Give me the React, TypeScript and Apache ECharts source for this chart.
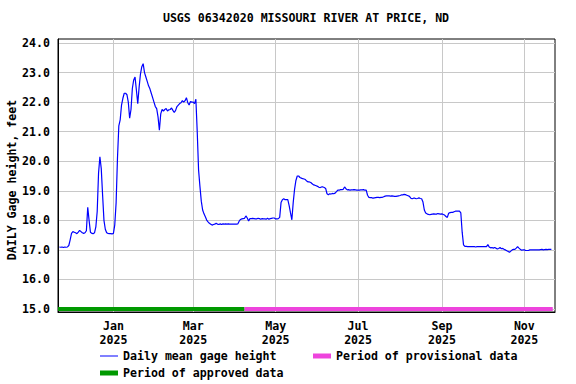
import React, { useEffect, useRef } from "react";
import * as echarts from "echarts";

// ---- Data (daily mean gage height, feet), one array per month ----
const nov2024 = [17.1, 17.09, 17.1, 17.08, 17.1, 17.09, 17.1, 17.15, 17.34]; // from Nov 22
const dec2024 = [17.56, 17.62, 17.6, 17.58, 17.55, 17.6, 17.66, 17.62, 17.58, 17.56, 17.58, 17.65, 18.44, 18.0, 17.6, 17.56, 17.55, 17.58, 17.78, 18.3, 19.6, 20.15, 19.75, 18.85, 18.0, 17.7, 17.58, 17.56, 17.55, 17.55, 17.54];
const jan2025 = [17.56, 17.85, 18.6, 20.1, 21.2, 21.4, 21.9, 22.13, 22.3, 22.3, 22.25, 22.0, 21.46, 21.75, 22.46, 22.75, 22.85, 22.4, 21.95, 22.5, 22.95, 23.2, 23.3, 23.0, 22.85, 22.7, 22.55, 22.45, 22.3, 22.15, 22.0];
const feb2025 = [21.85, 21.78, 21.5, 21.05, 21.6, 21.75, 21.7, 21.75, 21.78, 21.7, 21.74, 21.75, 21.8, 21.72, 21.65, 21.72, 21.85, 21.9, 21.95, 21.98, 22.05, 22.0, 22.05, 22.15, 21.98, 21.9, 22.02, 22.0];
const mar2025 = [22.0, 21.95, 22.1, 21.0, 19.7, 19.15, 18.65, 18.35, 18.22, 18.12, 18.01, 17.95, 17.9, 17.87, 17.84, 17.86, 17.87, 17.9, 17.87, 17.86, 17.88, 17.86, 17.88, 17.87, 17.88, 17.87, 17.88, 17.87, 17.87, 17.87, 17.87];
const apr2025 = [17.87, 17.87, 17.88, 17.97, 18.03, 18.05, 18.06, 18.07, 18.15, 18.08, 17.98, 18.06, 18.06, 18.07, 18.06, 18.05, 18.05, 18.07, 18.06, 18.04, 18.06, 18.05, 18.05, 18.04, 18.07, 18.04, 18.06, 18.07, 18.08, 18.08];
const may2025 = [18.05, 18.05, 18.06, 18.1, 18.6, 18.7, 18.73, 18.7, 18.7, 18.7, 18.5, 18.25, 18.02, 18.6, 19.05, 19.35, 19.5, 19.5, 19.45, 19.43, 19.41, 19.4, 19.38, 19.33, 19.3, 19.3, 19.28, 19.24, 19.2, 19.19, 19.17];
const jun2025 = [19.15, 19.12, 19.11, 19.13, 19.13, 19.11, 19.08, 18.9, 18.87, 18.9, 18.89, 18.91, 18.9, 18.92, 18.97, 19.02, 19.02, 19.04, 19.04, 19.05, 19.13, 19.07, 19.03, 19.04, 19.02, 19.03, 19.03, 19.04, 19.03, 19.02];
const jul2025 = [19.02, 19.02, 19.03, 19.03, 19.04, 19.02, 19.02, 18.85, 18.78, 18.77, 18.77, 18.75, 18.76, 18.77, 18.78, 18.78, 18.77, 18.78, 18.78, 18.8, 18.82, 18.83, 18.83, 18.83, 18.82, 18.83, 18.82, 18.81, 18.81, 18.82, 18.83];
const aug2025 = [18.84, 18.86, 18.86, 18.88, 18.87, 18.85, 18.83, 18.81, 18.75, 18.73, 18.75, 18.75, 18.73, 18.74, 18.76, 18.74, 18.73, 18.62, 18.35, 18.25, 18.22, 18.2, 18.19, 18.2, 18.21, 18.22, 18.21, 18.21, 18.23, 18.22, 18.21];
const sep2025 = [18.22, 18.2, 18.18, 18.13, 18.1, 18.24, 18.26, 18.27, 18.27, 18.29, 18.31, 18.31, 18.31, 18.31, 18.25, 17.6, 17.17, 17.12, 17.12, 17.11, 17.11, 17.11, 17.11, 17.11, 17.11, 17.1, 17.11, 17.11, 17.11, 17.11];
const oct2025 = [17.11, 17.11, 17.11, 17.11, 17.18, 17.1, 17.07, 17.08, 17.06, 17.08, 17.06, 17.03, 17.05, 17.08, 17.04, 17.05, 17.02, 17.0, 16.97, 16.95, 16.92, 16.96, 17.0, 17.02, 17.02, 17.06, 17.11, 17.06, 17.02, 16.99, 17.0];
const nov2025 = [17.0, 16.98, 16.98, 16.98, 17.0, 17.0, 17.0, 17.0, 17.0, 17.0, 17.0, 17.0, 17.01, 17.02, 17.0, 17.01, 17.02, 17.01, 17.02, 17.02, 17.02];

// [year, month (0-based), first day, values]
const monthBlocks: [number, number, number, number[]][] = [
  [2024, 10, 22, nov2024],
  [2024, 11, 1, dec2024],
  [2025, 0, 1, jan2025],
  [2025, 1, 1, feb2025],
  [2025, 2, 1, mar2025],
  [2025, 3, 1, apr2025],
  [2025, 4, 1, may2025],
  [2025, 5, 1, jun2025],
  [2025, 6, 1, jul2025],
  [2025, 7, 1, aug2025],
  [2025, 8, 1, sep2025],
  [2025, 9, 1, oct2025],
  [2025, 10, 1, nov2025],
];

// Data-quality periods
const approvedPeriod = [Date.UTC(2024, 10, 21), Date.UTC(2025, 3, 8)];
const provisionalPeriod = [Date.UTC(2025, 3, 8), Date.UTC(2025, 10, 22)];
const bandLevel = 15.0;

// Axis ticks
const xTickDates = [
  Date.UTC(2025, 0, 1),
  Date.UTC(2025, 2, 1),
  Date.UTC(2025, 4, 1),
  Date.UTC(2025, 6, 1),
  Date.UTC(2025, 8, 1),
  Date.UTC(2025, 10, 1),
];
const monthNames = ["Jan", "Feb", "Mar", "Apr", "May", "Jun", "Jul", "Aug", "Sep", "Oct", "Nov", "Dec"];
const yTicks = [15, 16, 17, 18, 19, 20, 21, 22, 23, 24];

const xMin = Date.UTC(2024, 10, 21);
const xMax = Date.UTC(2025, 10, 23, 16);
const yMin = 14.9;
const yMax = 24.135;

const FONT = "DejaVu Sans Mono";
const FS = 11.6;

const BLUE = "#0000ff";
const GREEN = "#009900";
const PINK = "#ee44dd";

export default function App() {
  const ref = useRef<HTMLDivElement>(null);

  useEffect(() => {
    if (!ref.current) return;
    const chart = echarts.init(ref.current, null, { renderer: "svg" });

    const daily: [number, number][] = [];
    monthBlocks.forEach(([y, m, d0, vals]) => {
      vals.forEach((v, i) => daily.push([Date.UTC(y, m, d0 + i), v]));
    });

    const textStyle = { fontFamily: FONT, fontSize: FS, fontWeight: "bold" as const, color: "#000" };

    chart.setOption({
      animation: false,
      backgroundColor: "#fff",
      title: {
        text: "USGS 06342020 MISSOURI RIVER AT PRICE, ND",
        left: 306,
        textAlign: "center",
        top: 12,
        padding: 0,
        textStyle: { ...textStyle },
      },
      grid: {
        left: 58,
        right: 21,
        top: 39,
        bottom: 72,
        show: true,
        borderColor: "#000",
        borderWidth: 1,
        backgroundColor: "transparent",
      },
      xAxis: {
        type: "value",
        min: xMin,
        max: xMax,
        axisLine: { show: true, lineStyle: { color: "#000", width: 1 } },
        axisTick: { show: false, customValues: xTickDates },
        splitLine: { show: true, lineStyle: { color: "#c8c8c8", width: 1 } },
        axisLabel: {
          customValues: xTickDates,
          margin: 7,
          lineHeight: 14,
          ...textStyle,
          formatter: (v: number) => {
            const d = new Date(v);
            return monthNames[d.getUTCMonth()] + "\n" + d.getUTCFullYear();
          },
        },
      },
      yAxis: {
        type: "value",
        min: yMin,
        max: yMax,
        axisLine: { show: true, lineStyle: { color: "#000", width: 1 } },
        axisTick: { show: false, customValues: yTicks },
        splitLine: { show: true, lineStyle: { color: "#c8c8c8", width: 1 } },
        axisLabel: {
          customValues: yTicks,
          margin: 8,
          ...textStyle,
          formatter: (v: number) => v.toFixed(1),
        },
      },
      graphic: [
        {
          type: "text",
          x: 12,
          y: 180,
          rotation: Math.PI / 2,
          style: {
            text: "DAILY Gage height, feet",
            fontFamily: FONT,
            fontSize: FS,
            fontWeight: "bold",
            fill: "#000",
            align: "center",
            verticalAlign: "middle",
          },
        },
      ],
      legend: [
        {
          left: 100,
          top: 350,
          padding: 0,
          itemWidth: 18,
          itemHeight: 1,
          textStyle: { ...textStyle },
          data: [{ name: "Daily mean gage height", icon: "rect" }],
        },
        {
          left: 313,
          top: 350,
          padding: 0,
          itemWidth: 18,
          itemHeight: 5,
          textStyle: { ...textStyle },
          data: [{ name: "Period of provisional data", icon: "rect" }],
        },
        {
          left: 100,
          top: 367,
          padding: 0,
          itemWidth: 18,
          itemHeight: 5,
          textStyle: { ...textStyle },
          data: [{ name: "Period of approved data", icon: "rect" }],
        },
      ],
      series: [
        {
          name: "Period of approved data",
          type: "line",
          color: GREEN,
          symbol: "none",
          lineStyle: { width: 4, color: GREEN },
          data: [
            [approvedPeriod[0], bandLevel],
            [approvedPeriod[1], bandLevel],
          ],
          z: 3,
        },
        {
          name: "Period of provisional data",
          type: "line",
          color: PINK,
          symbol: "none",
          lineStyle: { width: 4, color: PINK },
          data: [
            [provisionalPeriod[0], bandLevel],
            [provisionalPeriod[1], bandLevel],
          ],
          z: 3,
        },
        {
          name: "Daily mean gage height",
          type: "line",
          color: BLUE,
          symbol: "none",
          lineStyle: { width: 1.2, color: BLUE },
          data: daily,
          z: 4,
        },
      ],
    });

    return () => chart.dispose();
  }, []);

  return (
    <div
      ref={ref}
      style={{ position: "fixed", left: 0, top: 0, width: 576, height: 384 }}
    />
  );
}
